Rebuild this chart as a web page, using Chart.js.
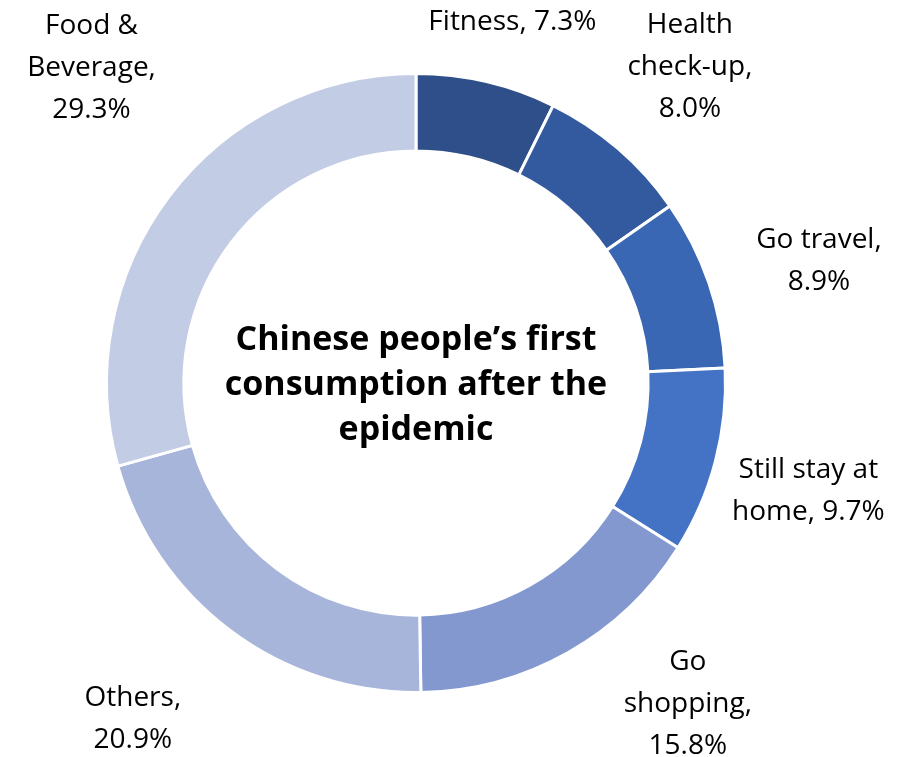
<!DOCTYPE html>
<html>
<head>
<meta charset="utf-8">
<script src="https://cdn.jsdelivr.net/npm/chart.js@4/dist/chart.umd.min.js"></script>
<style>
  html, body { margin: 0; padding: 0; background: #ffffff; }
  #wrap { width: 908px; height: 757px; position: relative; }
</style>
</head>
<body>
<div id="wrap"><canvas id="chart" width="908" height="757"></canvas></div>
<script>
// Share of respondents by first consumption choice (%)
const categories = ["Fitness", "Health check-up", "Go travel", "Still stay at home", "Go shopping", "Others", "Food & Beverage"];
const shares = [7.3, 8.0, 8.9, 9.7, 15.8, 20.9, 29.3];
// How each slice label wraps onto lines
const labelLines = [
  ["Fitness, 7.3%"],
  ["Health", "check-up,", "8.0%"],
  ["Go travel,", "8.9%"],
  ["Still stay at", "home, 9.7%"],
  ["Go", "shopping,", "15.8%"],
  ["Others,", "20.9%"],
  ["Food &", "Beverage,", "29.3%"]
];
const centerTitle = ["Chinese people\u2019s first", "consumption after the", "epidemic"];

const sliceColors = ["#2E4F89", "#335A9F", "#3A67B3", "#4472C4", "#8498D0", "#A8B5DA", "#C2CCE5"];
// Label block offset from the slice's outer-edge midpoint
const labelOffsets = [[26, -60], [72, -81], [110, -22], [93, 30], [120, 51], [-98, 88], [-78, -128]];

const FONT = '"Open Sans", "Noto Sans", "DejaVu Sans", sans-serif';

const sliceLabels = {
  id: 'sliceLabels',
  afterDraw(chart) {
    const ctx = chart.ctx;
    const meta = chart.getDatasetMeta(0);
    ctx.save();
    ctx.fillStyle = '#000000';
    ctx.font = '28px ' + FONT;
    ctx.textAlign = 'center';
    ctx.textBaseline = 'middle';
    const lh = 42;
    meta.data.forEach((arc, i) => {
      const p = arc.getProps(['x', 'y', 'startAngle', 'endAngle', 'outerRadius'], true);
      const mid = (p.startAngle + p.endAngle) / 2;
      const ax = p.x + Math.cos(mid) * p.outerRadius + labelOffsets[i][0];
      const ay = p.y + Math.sin(mid) * p.outerRadius + labelOffsets[i][1];
      const lines = labelLines[i];
      const top = ay - (lines.length - 1) * lh / 2;
      lines.forEach((t, k) => ctx.fillText(t, ax, top + k * lh));
    });
    // title inside the ring
    const c = meta.data[0];
    ctx.font = 'bold 34px ' + FONT;
    const tl = 45;
    const t0 = c.y + 2 - (centerTitle.length - 1) * tl / 2;
    centerTitle.forEach((t, k) => ctx.fillText(t, c.x, t0 + k * tl));
    ctx.restore();
  }
};

new Chart(document.getElementById('chart'), {
  type: 'doughnut',
  data: {
    labels: categories,
    datasets: [{
      data: shares,
      backgroundColor: sliceColors,
      borderColor: '#ffffff',
      borderWidth: 3
    }]
  },
  options: {
    responsive: false,
    animation: false,
    cutout: '75%',
    layout: { padding: { left: 105, right: 181, top: 72, bottom: 63 } },
    plugins: {
      legend: { display: false },
      tooltip: { enabled: false }
    }
  },
  plugins: [sliceLabels]
});
</script>
</body>
</html>
